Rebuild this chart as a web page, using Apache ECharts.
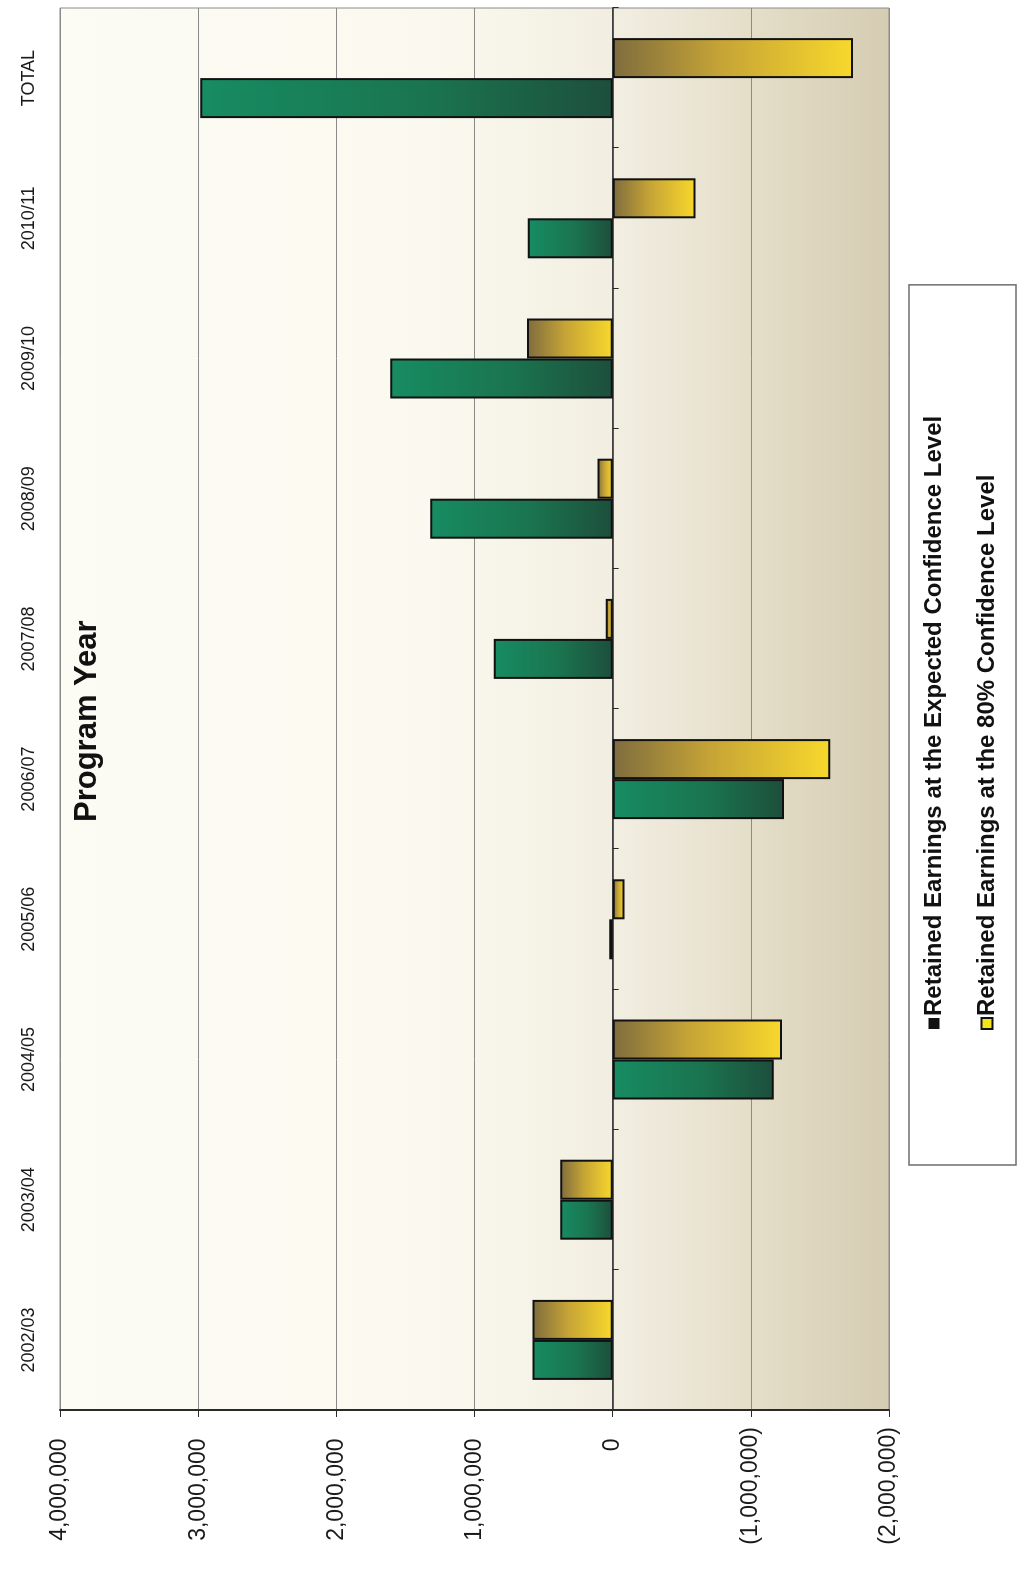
<!DOCTYPE html>
<html>
<head>
<meta charset="utf-8">
<title>Retained Earnings by Program Year</title>
<script src="https://cdn.jsdelivr.net/npm/echarts@6/dist/echarts.min.js"></script>
<style>
  html, body { margin: 0; padding: 0; background: #ffffff; overflow: hidden; }
  #page { position: absolute; left: 0; top: 0; width: 1021px; height: 1574px; overflow: hidden; }
  /* The chart is laid out landscape and turned a quarter turn counter-clockwise onto the portrait page */
  #chart {
    position: absolute; left: 0; top: 0;
    width: 1574px; height: 1021px;
    transform-origin: 0 0;
    transform: matrix(0, -1, 1, 0, 0, 1574);
  }
</style>
</head>
<body>
<div id="page"><div id="chart"></div></div>
<script>
// Program years shown along the category axis
const programYears = ['2002/03', '2003/04', '2004/05', '2005/06', '2006/07',
                      '2007/08', '2008/09', '2009/10', '2010/11', 'TOTAL'];

// Retained earnings at the expected confidence level
const expectedLevel = [580000, 380000, -1165000, 25000, -1240000,
                       860000, 1320000, 1610000, 615000, 2985000];

// Retained earnings at the 80% confidence level
const confidence80 = [580000, 380000, -1225000, -85000, -1575000,
                      50000, 110000, 620000, -600000, -1740000];

const seriesNames = ['Retained Earnings at the Expected Confidence Level',
                     'Retained Earnings at the 80% Confidence Level'];

const FONT = "'Liberation Sans', Arial, Helvetica, sans-serif";

// Accounting style: negatives in parentheses, positives padded so the digits line up
function formatAmount(v) {
  const s = Math.abs(v).toString().replace(/\B(?=(\d{3})+(?!\d))/g, ',');
  return v < 0 ? '(' + s + ')' : s + '\u2002';
}

const greenFill = new echarts.graphic.LinearGradient(0, 0, 0, 1, [
  { offset: 0, color: '#178c62' },
  { offset: 0.55, color: '#1a744f' },
  { offset: 1, color: '#1d4f3c' }
]);
const goldFill = new echarts.graphic.LinearGradient(0, 0, 0, 1, [
  { offset: 0, color: '#7e6c3e' },
  { offset: 0.45, color: '#c6a436' },
  { offset: 1, color: '#f8d82c' }
]);
const plotFill = new echarts.graphic.LinearGradient(0, 0, 0, 1, [
  { offset: 0, color: '#fcfbf4' },
  { offset: 0.45, color: '#fbf9ef' },
  { offset: 0.68, color: '#f1ede0' },
  { offset: 0.85, color: '#e3dcc6' },
  { offset: 1, color: '#d5ccb2' }
]);

const chart = echarts.init(document.getElementById('chart'), null, { width: 1574, height: 1021 });

chart.setOption({
  animation: false,
  backgroundColor: '#ffffff',
  title: {
    text: 'Program Year',
    left: 752,
    top: 72,
    padding: 0,
    textStyle: { fontFamily: FONT, fontSize: 31, fontWeight: 'bold', color: '#111111' }
  },
  legend: {
    orient: 'vertical',
    left: 409,
    top: 909,
    padding: [13, 131, 17, 135],
    itemGap: 29,
    itemWidth: 11,
    itemHeight: 11,
    icon: 'rect',
    backgroundColor: '#ffffff',
    borderColor: '#6e6e6e',
    borderWidth: 1.5,
    textStyle: { fontFamily: FONT, fontSize: 24, fontWeight: 'bold', color: '#111111', padding: [0, 0, 0, -3] },
    data: [
      { name: seriesNames[0], itemStyle: { color: '#111111', borderWidth: 0 } },
      { name: seriesNames[1], itemStyle: { color: '#f2e41e', borderColor: '#111111', borderWidth: 2 } }
    ]
  },
  grid: {
    left: 164,
    right: 8,
    top: 60,
    bottom: 132,
    show: true,
    backgroundColor: plotFill,
    borderColor: '#8a8a8a',
    borderWidth: 1
  },
  xAxis: [
    {
      type: 'category',
      data: programYears,
      position: 'top',
      axisLine: { show: false, onZero: false },
      axisTick: { show: false },
      axisLabel: { fontFamily: FONT, fontSize: 18, color: '#1a1a1a', margin: 22 }
    },
    {
      type: 'category',
      data: programYears,
      position: 'bottom',
      axisLine: { show: true, onZero: true, lineStyle: { color: '#2a2a2a', width: 1.5 } },
      axisTick: { show: true, length: 6, lineStyle: { color: '#2a2a2a' } },
      axisLabel: { show: false }
    }
  ],
  yAxis: {
    type: 'value',
    min: -2000000,
    max: 4000000,
    interval: 1000000,
    axisLine: { show: true, lineStyle: { color: '#2a2a2a', width: 2 } },
    axisTick: { show: true, length: 7, lineStyle: { color: '#2a2a2a' } },
    splitLine: { show: true, lineStyle: { color: '#8a8a8a', width: 1 } },
    axisLabel: {
      fontFamily: FONT, fontSize: 23, color: '#1a1a1a', margin: 17,
      formatter: formatAmount
    }
  },
  series: [
    {
      name: seriesNames[0],
      type: 'bar',
      xAxisIndex: 0,
      data: expectedLevel,
      barWidth: 40,
      barGap: '0%',
      itemStyle: { color: greenFill, borderColor: '#111111', borderWidth: 2 }
    },
    {
      name: seriesNames[1],
      type: 'bar',
      xAxisIndex: 0,
      data: confidence80,
      barWidth: 40,
      barGap: '0%',
      itemStyle: { color: goldFill, borderColor: '#111111', borderWidth: 2 }
    }
  ]
});
</script>
</body>
</html>
